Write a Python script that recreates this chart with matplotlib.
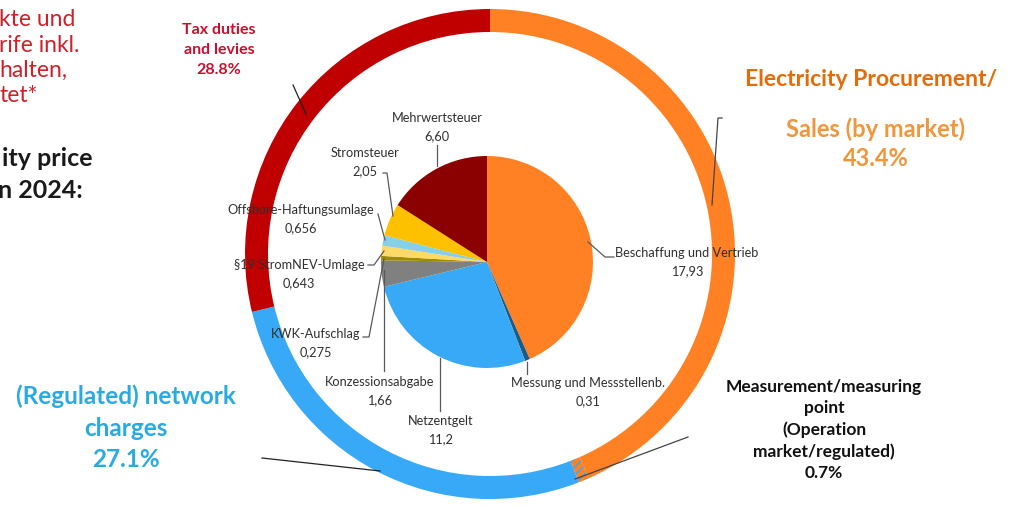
import matplotlib.pyplot as plt

plt.rcParams['font.family'] = ['Lato', 'DejaVu Sans']

# inner pie: price components (ct/kWh)
components = ['Beschaffung und Vertrieb', 'Messung und Messstellenb.', 'Netzentgelt',
              'Konzessionsabgabe', 'KWK-Aufschlag', '§19 StromNEV-Umlage',
              'Offshore-Haftungsumlage', 'Stromsteuer', 'Mehrwertsteuer']
values = [17.93, 0.31, 11.2, 1.66, 0.275, 0.643, 0.656, 2.05, 6.60]
value_labels = ['17,93', '0,31', '11,2', '1,66', '0,275', '0,643', '0,656', '2,05', '6,60']
pie_colors = ['#ff8124', '#1d5a86', '#37a9f7', '#808080', '#a08a00', '#ffd966',
              '#86cfe8', '#ffc000', '#8b0000']

# outer ring: groups (%)
groups = ['Electricity Procurement/Sales', 'Measurement', 'Network charges', 'Tax duties and levies']
shares = [43.4, 0.7, 27.1, 28.8]
ring_colors = ['#ff8124', '#ff8124', '#37a9f7', '#c00000']

W, H = 1009, 507
fig = plt.figure(figsize=(W / 100, H / 100), dpi=100)
ax = fig.add_axes([0, 0, 1, 1])


def Y(yp):
    return H - yp


# outer ring
wedges, _ = ax.pie(shares, colors=ring_colors, startangle=90, counterclock=False,
                   radius=245, center=(490, Y(254)),
                   wedgeprops=dict(width=23, linewidth=0))
wedges[1].set_hatch('////')
wedges[1].set_edgecolor('#37a9f7')
wedges[1].set_facecolor('#ff8124')

# inner pie
ax.pie(values, colors=pie_colors, startangle=90, counterclock=False,
       radius=106, center=(487, Y(262)), wedgeprops=dict(linewidth=0))

ax.set_xlim(0, W)
ax.set_ylim(0, H)
ax.set_aspect('equal')
ax.axis('off')

# inner labels: (text x, name y, leader points)
lab_fs = 9.2
lc = '#595959'
inner_pos = {
    'Beschaffung und Vertrieb': (687, 253, [(588, 242), (605, 257), (614, 257)]),
    'Messung und Messstellenb.': (588, 383, [(527, 362), (527, 374)]),
    'Netzentgelt': (441, 421, [(440, 358), (440, 411)]),
    'Konzessionsabgabe': (380, 382, [(384, 270), (384, 371)]),
    'KWK-Aufschlag': (316, 334, [(384, 259), (369, 337), (363, 337)]),
    '§19 StromNEV-Umlage': (299, 265, [(384, 251), (374, 265), (368, 265)]),
    'Offshore-Haftungsumlage': (301, 210, [(385, 240), (378, 214)]),
    'Stromsteuer': (365, 153, [(393, 216), (387, 173), (383, 173)]),
    'Mehrwertsteuer': (437, 118, [(437, 166), (437, 145)]),
}
for name, val in zip(components, value_labels):
    tx, ty, pts = inner_pos[name]
    ax.text(tx, Y(ty), name, ha='center', va='center', fontsize=lab_fs, color='#303030')
    ax.text(tx, Y(ty + 18.5), val, ha='center', va='center', fontsize=lab_fs, color='#303030')
    ax.plot([p[0] for p in pts], [Y(p[1]) for p in pts], color=lc, lw=0.9)

# outer labels
ax.text(219, Y(50), 'Tax duties\nand levies\n28.8%', ha='center', va='center',
        fontsize=11.5, fontweight='bold', color='#c8102e', linespacing=1.55)
ax.plot([293, 306], [Y(85), Y(114)], color='#222222', lw=0.9)

ax.text(871, Y(80), 'Electricity Procurement/', ha='center', va='center',
        fontsize=16.5, fontweight='bold', color='#e36c09')
ax.text(876, Y(144), 'Sales (by market)\n43.4%', ha='center', va='center',
        fontsize=17, fontweight='bold', color='#f0963c', linespacing=1.3)
ax.plot([722, 718, 712], [Y(118), Y(118), Y(205)], color='#444444', lw=0.9)

ax.text(824, Y(430), 'Measurement/measuring\npoint\n(Operation\nmarket/regulated)\n0.7%',
        ha='center', va='center', fontsize=12.5, fontweight='bold', color='#111111',
        linespacing=1.4)
ax.plot([575, 688], [Y(479), Y(437)], color='#444444', lw=0.9)

ax.text(126, Y(428), '(Regulated) network\ncharges\n27.1%', ha='center', va='center',
        fontsize=17.5, fontweight='bold', color='#29abe2', linespacing=1.45)
ax.plot([262, 380], [Y(458), Y(471)], color='#222222', lw=0.9)

# fragments of the surrounding slide text
red_lines = ['kte und', 'rife inkl.', 'halten,', 'tet*']
for i, s in enumerate(red_lines):
    ax.text(-1, Y(20 + i * 25), s, ha='left', va='center', fontsize=16.5, color='#d0202a')
ax.text(92, Y(158), 'ity price', ha='right', va='center', fontsize=18,
        fontweight='bold', color='#1a1a1a')
ax.text(83, Y(190), 'n 2024:', ha='right', va='center', fontsize=18,
        fontweight='bold', color='#1a1a1a')

fig.savefig('out.png', dpi=100)
